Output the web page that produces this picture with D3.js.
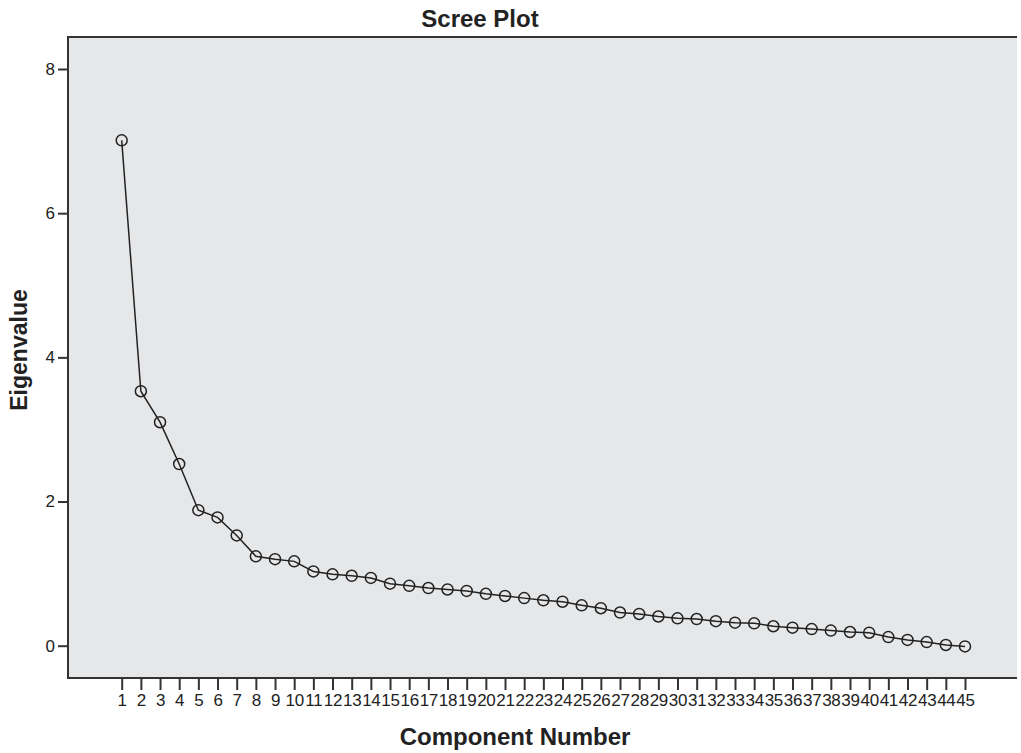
<!DOCTYPE html>
<html>
<head>
<meta charset="utf-8">
<script src="https://cdn.jsdelivr.net/npm/d3@7"></script>
<style>
  body { margin: 0; background: #fff; }
  svg { display: block; font-family: "Liberation Sans", Arial, sans-serif; }
</style>
</head>
<body>
<div id="chart"></div>
<script>
// component numbers and eigenvalues
var components = d3.range(1, 46);
var eigenvalues = [7.01, 3.53, 3.10, 2.52, 1.88, 1.78, 1.53, 1.24, 1.20, 1.17,
                   1.03, 0.99, 0.97, 0.94, 0.86, 0.83, 0.80, 0.78, 0.76, 0.72,
                   0.69, 0.66, 0.63, 0.61, 0.56, 0.52, 0.46, 0.44, 0.405, 0.38,
                   0.37, 0.34, 0.32, 0.31, 0.27, 0.25, 0.23, 0.21, 0.19, 0.18,
                   0.12, 0.08, 0.05, 0.01, -0.01];
var yTicks = [0, 2, 4, 6, 8];

var width = 1021;
var height = 753;
var frame = {left: 68, top: 37, right: 1017, bottom: 678};

var svg = d3.select('#chart').append('svg')
            .attr('width', width)
            .attr('height', height);

var x = d3.scaleLinear().domain([1, 45]).range([121.7, 965]);
var y = d3.scaleLinear().domain([0, 8]).range([645.7, 69]);

// grey plot area
svg.append('rect')
   .attr('x', frame.left)
   .attr('y', frame.top)
   .attr('width', frame.right - frame.left)
   .attr('height', frame.bottom - frame.top)
   .attr('fill', '#e6e7e9');

// frame: top, left, bottom lines
svg.append('path')
   .attr('d', 'M' + frame.right + ',' + frame.top + 'H' + frame.left + 'V' + frame.bottom + 'H' + frame.right)
   .attr('fill', 'none')
   .attr('stroke', '#333')
   .attr('stroke-width', 2);

// y axis
var yAxis = d3.axisLeft(y).tickValues(yTicks).tickSize(10).tickPadding(3).tickFormat(d3.format('d'));
var gy = svg.append('g').attr('transform', 'translate(' + frame.left + ',0)').call(yAxis);
gy.select('.domain').remove();
gy.selectAll('line').attr('stroke', '#333').attr('stroke-width', 2);
gy.selectAll('text').style('font-size', '17px').attr('fill', '#222');

// x axis
var xAxis = d3.axisBottom(x).tickValues(components).tickSize(12).tickPadding(4).tickFormat(d3.format('d'));
var gx = svg.append('g').attr('transform', 'translate(0,' + frame.bottom + ')').call(xAxis);
gx.select('.domain').remove();
gx.selectAll('line').attr('stroke', '#333').attr('stroke-width', 2);
gx.selectAll('text').style('font-size', '17px').attr('fill', '#222')
  .attr('letter-spacing', '-0.3px');

// scree line
var pts = components.map(function(c, i){ return [c, eigenvalues[i]]; });
svg.append('path')
   .datum(pts)
   .attr('d', d3.line().x(function(d){ return x(d[0]); }).y(function(d){ return y(d[1]); }))
   .attr('fill', 'none')
   .attr('stroke', '#222')
   .attr('stroke-width', 1.5);

svg.selectAll('circle.pt')
   .data(pts)
   .enter()
   .append('circle')
   .attr('class', 'pt')
   .attr('cx', function(d){ return x(d[0]); })
   .attr('cy', function(d){ return y(d[1]); })
   .attr('r', 5.5)
   .attr('fill', 'none')
   .attr('stroke', '#222')
   .attr('stroke-width', 1.5);

// titles
svg.append('text')
   .attr('x', 480).attr('y', 27)
   .attr('text-anchor', 'middle')
   .style('font-size', '24px').style('font-weight', 'bold')
   .attr('fill', '#222')
   .text('Scree Plot');

svg.append('text')
   .attr('x', 515).attr('y', 745)
   .attr('text-anchor', 'middle')
   .style('font-size', '24px').style('font-weight', 'bold')
   .attr('fill', '#222')
   .text('Component Number');

svg.append('text')
   .attr('transform', 'translate(27,350) rotate(-90)')
   .attr('text-anchor', 'middle')
   .style('font-size', '23px').style('font-weight', 'bold')
   .attr('fill', '#222')
   .text('Eigenvalue');
</script>
</body>
</html>
